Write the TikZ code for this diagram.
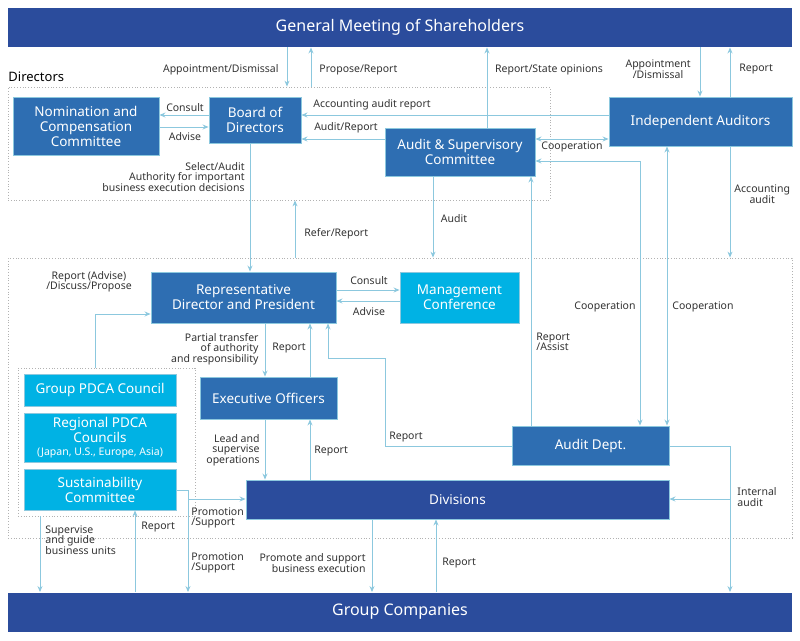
\documentclass[tikz,border=0pt]{standalone}
\usepackage{fontspec}
\setmainfont{Noto Sans}
\usetikzlibrary{arrows.meta}
\definecolor{darkblue}{RGB}{43,76,156}
\definecolor{midblue}{RGB}{46,110,178}
\definecolor{cyanbox}{RGB}{0,178,228}
\definecolor{arrowblue}{RGB}{140,200,222}
\tikzset{every picture/.style={line width=0.9pt},
  bar/.style={fill=darkblue,text=white,font=\fontsize{16}{18}\selectfont\bfseries,minimum width=784,minimum height=39,inner sep=0},
  box/.style={fill=midblue,draw=arrowblue,text=white,font=\fontsize{13.5}{15}\selectfont\bfseries,align=center,inner sep=0},
  cbox/.style={box,fill=cyanbox},
  dotbox/.style={draw=gray!60,dotted,line width=0.8pt,inner sep=0},
  lbl/.style={font=\fontsize{10.5}{12.5}\selectfont,text=black!80,align=center,inner sep=1pt},
  arr/.style={draw=arrowblue,-{Stealth[length=6pt,width=5pt]}},
  darr/.style={draw=arrowblue,{Stealth[length=6pt,width=5pt]}-{Stealth[length=6pt,width=5pt]}},
  ln/.style={draw=arrowblue}}

\begin{document}
\begin{tikzpicture}[x=1pt,y=1pt,yscale=-1]
  \useasboundingbox (0,0) rectangle (800,640);

  % dotted frames
  \node[dotbox,minimum width=542,minimum height=113] (dirbox) at (279,143.5) {};
  \node[dotbox,minimum width=784,minimum height=280] (execbox) at (400,398) {};
  \node[dotbox,minimum width=177,minimum height=148] (pdcabox) at (106.5,442) {};
  \node[font=\fontsize{13}{15}\selectfont,anchor=west,inner sep=0] at (8,77) {Directors};

  % bars
  \node[bar] (gms) at (400,27.5) {General Meeting of Shareholders};
  \node[bar] (gc) at (400,612) {Group Companies};

  % boxes
  \node[box,minimum width=146,minimum height=58] (nom) at (86,126) {Nomination and\\Compensation\\Committee};
  \node[box,minimum width=92,minimum height=46] (board) at (255,120) {Board of\\Directors};
  \node[box,minimum width=150,minimum height=48] (asc) at (460,152) {Audit \& Supervisory\\Committee};
  \node[box,minimum width=183,minimum height=49] (ia) at (700.5,121.5) {Independent Auditors};
  \node[box,minimum width=185,minimum height=51] (rep) at (243.5,297.5) {Representative\\Director and President};
  \node[cbox,minimum width=119,minimum height=51] (mc) at (459.5,297.5) {Management\\Conference};
  \node[cbox,minimum width=152,minimum height=32] (gpdca) at (100,390) {Group PDCA Council};
  \node[cbox,minimum width=152,minimum height=49] (rpdca) at (100,437.5) {Regional PDCA\\Councils\\[-2pt]{\fontsize{10.5}{12}\selectfont(Japan, U.S., Europe, Asia)}};
  \node[cbox,minimum width=152,minimum height=41] (sus) at (100,489.5) {Sustainability\\Committee};
  \node[box,minimum width=137,minimum height=42] (eo) at (268.5,398) {Executive Officers};
  \node[box,minimum width=157,minimum height=39] (ad) at (590.5,445.5) {Audit Dept.};
  \node[box,fill=darkblue,minimum width=423,minimum height=39] (div) at (457.5,499.5) {Divisions};

  % shareholders
  \draw[arr] (287,0 |- gms.south) -- (287,0 |- dirbox.north);
  \node[lbl,anchor=east] at (280,70) {Appointment/Dismissal};
  \draw[arr] (311,0 |- dirbox.north) -- (311,0 |- gms.south);
  \node[lbl,anchor=west] at (318,70) {Propose/Report};
  \draw[arr] (487,0 |- asc.north) -- (487,0 |- gms.south);
  \node[lbl] at (549,70) {Report/State opinions};
  \draw[arr] (700,0 |- gms.south) -- (700,0 |- ia.north);
  \node[lbl,anchor=east] at (692,69) {Appointment\\[-2pt]/Dismissal};
  \draw[arr] (730,0 |- ia.north) -- (730,0 |- gms.south);
  \node[lbl,anchor=west] at (738,69) {Report};

  % directors
  \draw[arr] (0,115 -| board.west) -- (0,115 -| nom.east);
  \node[lbl] at (185,108) {Consult};
  \draw[arr] (0,127 -| nom.east) -- (0,127 -| board.west);
  \node[lbl] at (185,137) {Advise};
  \draw[arr] (0,115 -| ia.west) -- (0,115 -| board.east);
  \node[lbl] at (372,105) {Accounting audit report};
  \draw[arr] (0,139 -| asc.west) -- (0,139 -| board.east);
  \node[lbl] at (346,128) {Audit/Report};
  \draw[darr] (0,139 -| asc.east) -- (0,139 -| ia.west);
  \node[lbl] at (572,147) {Cooperation};

  % directors to execution
  \draw[arr] (250,0 |- board.south) -- (250,0 |- rep.north);
  \node[lbl,anchor=east,align=right] at (246,177) {Select/Audit\\[-2pt]Authority for important\\[-2pt]business execution decisions};
  \draw[arr] (295,0 |- execbox.north) -- (295,0 |- dirbox.south);
  \node[lbl,anchor=west] at (303,234) {Refer/Report};
  \draw[arr] (433,0 |- asc.south) -- (433,0 |- execbox.north);
  \node[lbl] at (454,219) {Audit};
  \draw[arr] (730,0 |- ia.south) -- (730,0 |- execbox.north);
  \node[lbl,anchor=west] at (733,194) {Accounting\\[-2pt]audit};

  % audit relations
  \draw[darr] (0,161 -| asc.east) -- (640,161) -- (640,0 |- ad.north);
  \node[lbl] at (605,307) {Cooperation};
  \draw[darr] (667,0 |- ia.south) -- (667,0 |- ad.north);
  \node[lbl] at (703,307) {Cooperation};
  \draw[arr] (531,0 |- ad.north) -- (531,0 |- asc.south);
  \node[lbl,anchor=west,align=left] at (535,342) {Report\\[-2pt]/Assist};
  \draw[arr] (0,446 -| ad.west) -- (385,446) -- (385,358) -- (328,358) -- (328,0 |- rep.south);
  \node[lbl] at (406,437) {Report};

  % president
  \draw[arr] (0,290 -| rep.east) -- (0,290 -| mc.west);
  \node[lbl] at (369,281) {Consult};
  \draw[arr] (0,301 -| mc.west) -- (0,301 -| rep.east);
  \node[lbl] at (369,312) {Advise};
  \draw[arr] (95,0 |- pdcabox.north) -- (95,314) -- (0,314 -| rep.west);
  \node[lbl] at (89,282) {Report (Advise)\\[-2pt]/Discuss/Propose};
  \draw[arr] (265,0 |- rep.south) -- (265,0 |- eo.north);
  \node[lbl,anchor=east,align=right] at (260,349) {Partial transfer\\[-2pt]of authority\\[-2pt]and responsibility};
  \draw[arr] (310,0 |- eo.north) -- (310,0 |- rep.south);
  \node[lbl] at (289,348) {Report};
  \draw[arr] (265,0 |- eo.south) -- (265,0 |- div.north);
  \node[lbl,anchor=east,align=right] at (261,450) {Lead and\\[-2pt]supervise\\[-2pt]operations};
  \draw[arr] (310,0 |- div.north) -- (310,0 |- eo.south);
  \node[lbl,anchor=west] at (313,451) {Report};

  % divisions and group companies
  \draw[ln] (0,446 -| ad.east) -- (730,446);
  \draw[arr] (730,446) -- (730,0 |- gc.north);
  \draw[arr] (730,499) -- (0,499 -| div.east);
  \node[lbl,anchor=west,align=left] at (736,497) {Internal\\[-2pt]audit};
  \draw[ln] (0,490 -| sus.east) -- (188,490);
  \draw[arr] (188,490) -- (188,499) -- (0,499 -| div.west);
  \node[lbl,anchor=west,align=left] at (190,518) {Promotion\\[-2pt]/Support};
  \draw[arr] (188,499) -- (188,0 |- gc.north);
  \node[lbl,anchor=west,align=left] at (190,563) {Promotion\\[-2pt]/Support};
  \draw[arr] (40,0 |- pdcabox.south) -- (40,0 |- gc.north);
  \node[lbl,anchor=west,align=left] at (44,540) {Supervise\\[-2pt]and guide\\[-2pt]business units};
  \draw[arr] (135,0 |- gc.north) -- (135,0 |- sus.south);
  \node[lbl,anchor=west] at (140,527) {Report};
  \draw[arr] (372,0 |- div.south) -- (372,0 |- gc.north);
  \node[lbl,anchor=east,align=right] at (367,563) {Promote and support\\[-2pt]business execution};
  \draw[arr] (436,0 |- gc.north) -- (436,0 |- div.south);
  \node[lbl,anchor=west] at (441,563) {Report};
\end{tikzpicture}
\end{document}
